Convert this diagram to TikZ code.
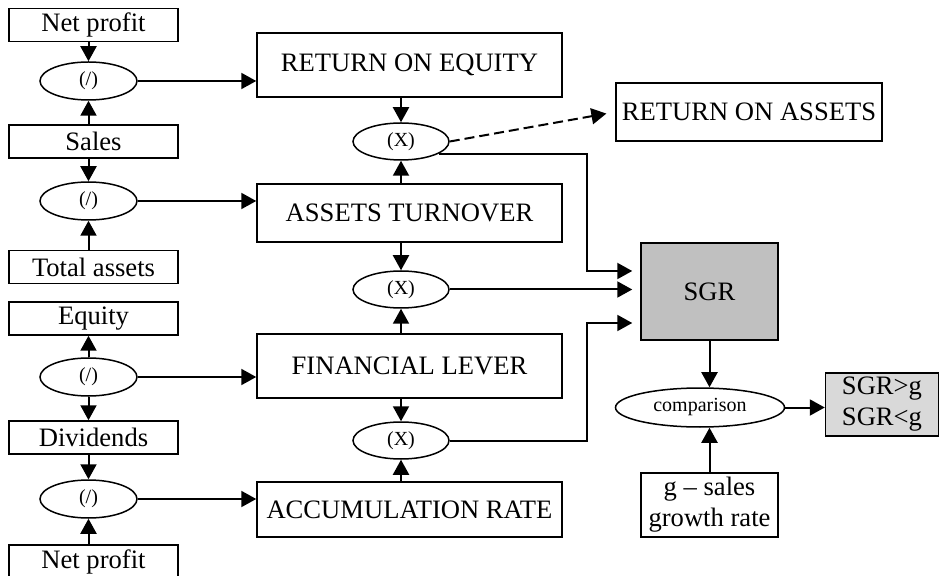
\documentclass[tikz,border=0pt]{standalone}
\usepackage{fontspec}
\setmainfont{Liberation Serif}
\usetikzlibrary{shapes,arrows.meta,positioning}

\definecolor{sgrgray}{HTML}{C0C0C0}
\definecolor{resgray}{HTML}{D9D9D9}

\tikzset{
  plainbox/.style={draw, line width=0.75pt, inner sep=0pt, align=center,
    font=\fontsize{13.3}{15.5}\selectfont},
  leftbox/.style={plainbox, minimum width=84.5pt, minimum height=16.5pt},
  midbox/.style={plainbox, minimum width=152.5pt},
  opnode/.style={draw, ellipse, line width=0.75pt, inner sep=0pt,
    font=\fontsize{10}{12}\selectfont, minimum width=48.5pt, minimum height=19pt},
  arr/.style={line width=1pt, -{Triangle[length=7.5pt,width=8pt]}},
}

\begin{document}
\begin{tikzpicture}[x=0.5pt,y=-0.5pt]
\useasboundingbox (0,0) rectangle (940,576);

% Inputs
\node[leftbox] (np1) at (93.5,25) {Net profit};
\node[leftbox] (sales) at (93.5,141.5) {Sales};
\node[leftbox] (tassets) at (93.5,267) {Total assets};
\node[leftbox] (equity) at (93.5,318.5) {Equity};
\node[leftbox] (divid) at (93.5,437.5) {Dividends};
\node[leftbox] (np2) at (93.5,561.5) {Net profit};

% Ratios
\node[opnode] (e1) at (88.5,81) {(/)};
\node[opnode] (e2) at (88.5,201) {(/)};
\node[opnode] (e3) at (88.5,377) {(/)};
\node[opnode] (e4) at (88.5,499) {(/)};

\node[midbox, minimum height=32pt] (roe) at (409.5,65) {RETURN ON EQUITY};
\node[midbox, minimum height=29pt] (at) at (409.5,213) {ASSETS TURNOVER};
\node[midbox, minimum height=32pt] (fl) at (409.5,366) {FINANCIAL LEVER};
\node[midbox, minimum height=27.5pt] (ar) at (409.5,509.5) {ACCUMULATION RATE};

\node[opnode, minimum width=48pt, minimum height=18.5pt] (x1) at (401,141.5) {(X)};
\node[opnode, minimum width=48pt, minimum height=18.5pt] (x2) at (401,289.5) {(X)};
\node[opnode, minimum width=48pt, minimum height=18.5pt] (x3) at (401,440.5) {(X)};

% Results
\node[plainbox, minimum width=133pt, minimum height=29pt] (roa) at (749,112) {RETURN ON ASSETS};
\node[plainbox, fill=sgrgray, minimum width=68.5pt, minimum height=48.5pt] (sgr) at (709.5,291.5) {SGR};
\node[opnode, minimum width=84.5pt, minimum height=19.5pt] (cmp) at (700,407.5) {comparison};
\node[plainbox, fill=resgray, minimum width=56.5pt, minimum height=31.5pt] (res) at (882,404.5) {SGR\textgreater g\\SGR\textless g};
\node[plainbox, minimum width=68.5pt, minimum height=32pt] (g) at (709.5,505) {g -- sales\\growth rate};

\coordinate (bendx) at (586.5,0);
\coordinate (in1) at ([yshift=10.25pt]sgr.west);
\coordinate (in3) at ([yshift=-15.75pt]sgr.west);

% Left column arrows
\draw[arr] (np1.south -| e1) -- (e1.north);
\draw[arr] (sales.north -| e1) -- (e1.south);
\draw[arr] (sales.south -| e2) -- (e2.north);
\draw[arr] (tassets.north -| e2) -- (e2.south);
\draw[arr] (e3.north) -- (equity.south -| e3);
\draw[arr] (e3.south) -- (divid.north -| e3);
\draw[arr] (divid.south -| e4) -- (e4.north);
\draw[arr] (np2.north -| e4) -- (e4.south);

\draw[arr] (e1.east) -- (roe.west |- e1);
\draw[arr] (e2.east) -- (at.west |- e2);
\draw[arr] (e3.east) -- (fl.west |- e3);
\draw[arr] (e4.east) -- (ar.west |- e4);

% Middle column arrows
\draw[arr] (roe.south -| x1) -- (x1.north);
\draw[arr] (at.north -| x1) -- (x1.south);
\draw[arr] (at.south -| x2) -- (x2.north);
\draw[arr] (fl.north -| x2) -- (x2.south);
\draw[arr] (fl.south -| x3) -- (x3.north);
\draw[arr] (ar.north -| x3) -- (x3.south);

\draw[arr, dashed, dash pattern=on 5pt off 2.5pt, shorten >=4.5pt] (x1.east) -- (roa.west);

% Into SGR
\draw[arr, shorten >=4pt] (x1.-18) -| (bendx |- in1) -- (in1);
\draw[arr, shorten >=4pt] (x2.east) -- (sgr.west |- x2);
\draw[arr, shorten >=4pt] (x3.east) -| (bendx |- in3) -- (in3);

% Comparison
\draw[arr] (sgr.south) -- (sgr.south |- cmp.north);
\draw[arr] (g.north) -- (g.north |- cmp.south);
\draw[arr] (cmp.east) -- (res.west |- cmp.east);
\end{tikzpicture}
\end{document}
